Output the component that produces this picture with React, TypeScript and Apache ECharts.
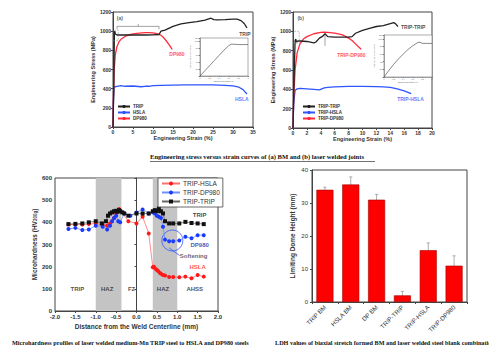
import React, { useEffect, useRef } from "react";
import * as echarts from "echarts";

// ---------- (a) BM stress-strain ----------
const tripAStrain = [0, 0.2, 0.3, 0.35, 0.45, 0.6, 0.8, 1.0, 2, 4, 6, 8, 10, 11.5, 12, 13, 15, 17, 19, 21, 23, 24.5, 25.2, 26, 28, 30, 31, 32, 32.8, 33.5];
const tripAStress = [0, 400, 800, 980, 1000, 970, 965, 960, 960, 960, 962, 960, 962, 965, 1000, 1010, 1050, 1075, 1090, 1100, 1115, 1135, 1120, 1118, 1120, 1125, 1125, 1110, 1080, 1035];
const hslaAStrain = [0, 0.1, 0.25, 0.5, 1, 2, 3, 5, 7, 8, 9, 10, 12, 15, 18, 20, 22, 25, 28, 30, 31.5, 32.5, 33.5];
const hslaAStress = [0, 250, 410, 420, 425, 432, 425, 428, 420, 425, 425, 432, 435, 438, 440, 440, 440, 440, 435, 430, 415, 390, 345];
const dpAStrain = [0, 0.1, 0.3, 0.6, 1, 1.5, 2, 3, 4, 5, 6, 8, 9, 10, 11, 11.8, 12.5, 13.3, 14, 14.8];
const dpAStress = [0, 300, 600, 760, 840, 890, 915, 945, 962, 972, 978, 985, 985, 982, 975, 962, 940, 900, 860, 810];

// ---------- (b) welded joints ----------
const ttBStrain = [0, 0.15, 0.3, 0.4, 0.5, 0.7, 1, 2, 3, 3.3, 3.8, 4.3, 4.6, 5, 6, 7, 8, 8.5, 9, 10, 11, 12, 13, 14, 14.5, 14.8, 15.1];
const ttBStress = [0, 500, 900, 920, 890, 900, 900, 895, 880, 890, 930, 950, 975, 945, 940, 940, 940, 945, 980, 1010, 1030, 1050, 1060, 1080, 1090, 1075, 1050];
const thBStrain = [0, 0.1, 0.3, 0.6, 1, 2, 3, 3.8, 4.5, 5, 6, 8, 10, 12, 13, 14, 15, 16, 17];
const thBStress = [0, 250, 390, 405, 410, 405, 400, 395, 415, 420, 425, 430, 430, 428, 425, 420, 405, 385, 355];
const tdBStrain = [0, 0.1, 0.3, 0.6, 1, 1.5, 2, 3, 4, 4.5, 5, 6, 7, 7.5, 8, 8.5, 9, 9.5, 9.8];
const tdBStress = [0, 300, 600, 780, 870, 920, 945, 975, 990, 992, 990, 982, 965, 950, 930, 905, 870, 835, 815];

// insets (yield region zoom)
const insetAStrain = [0, 0.1, 0.2, 0.3, 0.4, 0.5, 0.6, 0.65, 0.7, 0.8, 0.9, 1.0];
const insetAStress = [0, 150, 300, 450, 600, 750, 880, 920, 920, 910, 910, 910];
const insetBStrain = [0, 0.1, 0.2, 0.3, 0.4, 0.5, 0.6, 0.7, 0.75, 0.8, 0.9, 1.0];
const insetBStress = [0, 170, 330, 470, 600, 720, 820, 900, 910, 880, 880, 880];

// ---------- microhardness ----------
const hslaDist = [-1.67, -1.5, -1.33, -1.17, -1.0, -0.83, -0.72, -0.65, -0.6, -0.55, -0.5, -0.47, -0.43, -0.4, -0.2, 0.0, 0.15, 0.3, 0.4, 0.43, 0.47, 0.5, 0.53, 0.57, 0.6, 0.65, 0.7, 0.8, 0.9, 1.05, 1.2, 1.35, 1.5, 1.65];
const hslaHV = [390, 390, 390, 392, 395, 388, 385, 395, 405, 420, 440, 450, 460, 455, 405, 395, 425, 350, 197, 200, 190, 185, 180, 172, 168, 162, 160, 153, 153, 152, 155, 148, 162, 155];
const dpDist = [-1.67, -1.5, -1.33, -1.17, -1.0, -0.83, -0.72, -0.65, -0.6, -0.55, -0.5, -0.45, -0.4, -0.3, -0.15, 0.0, 0.15, 0.3, 0.4, 0.45, 0.5, 0.55, 0.6, 0.65, 0.7, 0.8, 0.9, 1.05, 1.2, 1.35, 1.5, 1.65];
const dpHV = [370, 375, 365, 368, 385, 380, 368, 385, 405, 420, 430, 405, 400, 440, 430, 445, 458, 440, 445, 440, 430, 425, 420, 380, 322, 315, 315, 318, 335, 328, 342, 342];
const ttDist = [-1.67, -1.5, -1.33, -1.17, -1.0, -0.85, -0.75, -0.7, -0.65, -0.6, -0.55, -0.5, -0.47, -0.43, -0.4, -0.35, -0.3, -0.2, 0.0, 0.15, 0.3, 0.4, 0.45, 0.5, 0.55, 0.6, 0.65, 0.7, 0.8, 0.9, 1.05, 1.2, 1.35, 1.5, 1.65];
const ttHV = [392, 393, 395, 400, 405, 395, 405, 430, 440, 445, 450, 452, 448, 455, 450, 445, 440, 430, 440, 440, 440, 450, 455, 450, 462, 450, 440, 405, 395, 395, 395, 402, 397, 395, 392];
const hazBands = [[-1.0, -0.37], [0.4, 1.0]];
const zoneNames = ["TRIP", "HAZ", "FZ", "HAZ", "AHSS"];
const zoneX = [-1.45, -0.72, -0.12, 0.65, 1.43];
const zoneY = 100;

// ---------- LDH ----------
const ldhCategories = ["TRIP BM", "HSLA BM", "DP BM", "TRIP-TRIP", "TRIP-HSLA", "TRIP-DP980"];
const ldhValues = [34, 35.6, 31, 2, 15.7, 11];
const ldhErrors = [0.8, 2.3, 1.6, 1.2, 2.2, 3];

const SANS = "Liberation Sans";
const SERIF = "Liberation Serif";
const BLACK = "#222";
const RED = "#ff2a3a";
const BLUE = "#2f55ff";

const zip = (xs: number[], ys: number[]) => xs.map((x, i) => [x, ys[i]]);
const plain = (v: number) => String(v);

function valueAxis(gridIndex: number, min: number, max: number, interval: number, fs: number, extra: any = {}) {
  return {
    type: "value",
    gridIndex,
    min,
    max,
    interval,
    splitLine: { show: false },
    axisLine: { show: true, lineStyle: { color: "#444", width: 1 } },
    axisTick: { show: true, length: 2, lineStyle: { color: "#444" } },
    axisLabel: { fontSize: fs, color: "#333", fontFamily: SANS, fontWeight: "bold", margin: 2, formatter: plain },
    nameTextStyle: { fontFamily: SANS, fontWeight: "bold", color: "#333" },
    ...extra,
  };
}

function insetAxis(gridIndex: number, max: number, interval: number, name: string, gap: number) {
  return valueAxis(gridIndex, 0, max, interval, 2, {
    axisLabel: { fontSize: 2, color: "#555", margin: 1, formatter: plain },
    axisTick: { length: 1, lineStyle: { color: "#777" } },
    axisLine: { lineStyle: { color: "#777", width: 0.6 } },
    name,
    nameLocation: "middle",
    nameGap: gap,
    nameTextStyle: { fontSize: 2, color: "#555" },
  });
}

function labelSeries(xi: number, yi: number, items: { name: string; value: number[]; color: string }[], fs: number) {
  return {
    type: "scatter",
    xAxisIndex: xi,
    yAxisIndex: yi,
    symbolSize: 0,
    silent: true,
    data: items.map((d) => ({
      name: d.name,
      value: d.value,
      label: { show: true, position: "inside", formatter: "{b}", color: d.color, fontSize: fs, fontWeight: "bold", fontFamily: SANS },
    })),
  };
}

function curve(name: string, xi: number, xs: number[], ys: number[], color: string, width = 1.3) {
  return {
    name,
    type: "line",
    xAxisIndex: xi,
    yAxisIndex: xi,
    symbol: "none",
    data: zip(xs, ys),
    lineStyle: { color, width },
    itemStyle: { color },
  };
}

export default function App() {
  const ref = useRef<HTMLDivElement>(null);
  useEffect(() => {
    if (!ref.current) return;
    const chart = echarts.init(ref.current, undefined, { renderer: "svg" });
    const gridBox = { show: true, borderColor: "#444", borderWidth: 1, backgroundColor: "transparent" };
    const insetBox = { show: true, borderColor: "#777", borderWidth: 0.6, backgroundColor: "#fff" };
    const titleStyle = (fs: number) => ({ fontFamily: SANS, fontWeight: "bold", fontSize: fs, color: "#333" });
    const option: any = {
      animation: false,
      backgroundColor: "#fff",
      grid: [
        { left: 113, top: 12, width: 140, height: 115, ...gridBox },
        { left: 293, top: 12, width: 139, height: 116, ...gridBox },
        { left: 55, top: 178, width: 163, height: 133, ...gridBox },
        { left: 312, top: 170, width: 155, height: 132, ...gridBox },
        { left: 200, top: 38, width: 48, height: 38, ...insetBox },
        { left: 384, top: 35, width: 48, height: 42, ...insetBox },
      ],
      xAxis: [
        valueAxis(0, 0, 35, 5, 5, { name: "Engineering Strain (%)", nameLocation: "middle", nameGap: 8, nameTextStyle: titleStyle(5.5) }),
        valueAxis(1, 0, 20, 2, 5, { name: "Engineering Strain (%)", nameLocation: "middle", nameGap: 8, nameTextStyle: titleStyle(5.5) }),
        valueAxis(2, -2, 2, 0.5, 6, {
          name: "Distance from the Weld Centerline (mm)",
          nameLocation: "middle",
          nameGap: 12,
          nameTextStyle: titleStyle(6.5),
          axisLabel: { fontSize: 6, color: "#333", fontFamily: SANS, fontWeight: "bold", margin: 3, formatter: (v: number) => v.toFixed(1) },
        }),
        {
          type: "category",
          gridIndex: 3,
          data: ldhCategories,
          axisLine: { show: true, lineStyle: { color: "#444" } },
          axisTick: { show: true, length: 2, lineStyle: { color: "#444" } },
          axisLabel: { fontSize: 6.2, color: "#333", fontFamily: SANS, rotate: 45, margin: 4, interval: 0 },
        },
        insetAxis(4, 1, 0.2, "Engineering Strain (%)", 4),
        insetAxis(5, 1, 0.2, "Engineering Strain (%)", 4),
      ],
      yAxis: [
        valueAxis(0, 0, 1200, 200, 5, { name: "Engineering Stress (MPa)", nameLocation: "middle", nameGap: 17, nameTextStyle: titleStyle(5.5) }),
        valueAxis(1, 0, 1200, 200, 5, { name: "Engineering Stress (MPa)", nameLocation: "middle", nameGap: 17, nameTextStyle: titleStyle(5.5) }),
        valueAxis(2, 0, 600, 100, 6, {
          name: "Microhardness (HV{s|200g})",
          nameLocation: "middle",
          nameGap: 17,
          nameTextStyle: { ...titleStyle(6.5), rich: { s: { fontSize: 4.5, fontFamily: SANS, fontWeight: "bold", color: "#333", verticalAlign: "bottom" } } },
          axisLabel: { fontSize: 6, color: "#333", fontFamily: SANS, fontWeight: "bold", margin: 3, formatter: plain },
        }),
        valueAxis(3, 0, 40, 10, 6, {
          name: "Limiting Dome Height (mm)",
          nameLocation: "middle",
          nameGap: 16,
          nameTextStyle: titleStyle(6.5),
          axisLabel: { fontSize: 6, color: "#333", fontFamily: SANS, margin: 4, formatter: plain },
        }),
        insetAxis(4, 1100, 200, "Engineering Stress (MPa)", 6),
        insetAxis(5, 1100, 200, "Engineering Stress (MPa)", 6),
      ],
      legend: [
        {
          data: ["TRIP", "HSLA", "DP980"],
          orient: "vertical",
          left: 117,
          top: 104,
          itemWidth: 12,
          itemHeight: 4,
          itemGap: 1,
          padding: 0,
          textStyle: { fontSize: 4.5, fontFamily: SANS, fontWeight: "bold", color: "#333", padding: [0, 0, 0, -2] },
        },
        {
          data: ["TRIP-TRIP ", "TRIP-HSLA ", "TRIP-DP980 "],
          orient: "vertical",
          left: 302,
          top: 104,
          itemWidth: 12,
          itemHeight: 4,
          itemGap: 1,
          padding: 0,
          textStyle: { fontSize: 4.5, fontFamily: SANS, fontWeight: "bold", color: "#333", padding: [0, 0, 0, -2] },
        },
        {
          data: ["TRIP-HSLA", "TRIP-DP980", "TRIP-TRIP"],
          orient: "vertical",
          left: 158,
          top: 178,
          itemWidth: 18,
          itemHeight: 5,
          itemGap: 2,
          padding: [2, 3, 2, 3],
          borderColor: "#444",
          borderWidth: 0.8,
          backgroundColor: "#fff",
          textStyle: { fontSize: 6.5, fontFamily: SANS, color: "#333", padding: [0, 0, 0, -2] },
        },
      ],
      series: [
        // (a)
        curve("HSLA", 0, hslaAStrain, hslaAStress, BLUE),
        curve("DP980", 0, dpAStrain, dpAStress, RED),
        curve("TRIP", 0, tripAStrain, tripAStress, BLACK),
        {
          type: "line", xAxisIndex: 0, yAxisIndex: 0, symbol: "none", silent: true,
          lineStyle: { color: "#666", width: 0.6 },
          data: [[1, 1020], [1, 1050], [11.5, 1050], [11.5, 1020]],
        },
        {
          type: "line", xAxisIndex: 0, yAxisIndex: 0, symbol: "none", silent: true,
          lineStyle: { color: "#666", width: 0.6 },
          data: [[6.3, 1050], [6.3, 1075]],
        },
        {
          type: "line", xAxisIndex: 0, yAxisIndex: 0, symbol: "none", silent: true,
          lineStyle: { color: "#888", width: 0.5, type: "dashed" },
          data: [[0, 900], [1.3, 900], [1.3, 1010], [0, 1010]],
        },
        labelSeries(0, 0, [
          { name: "(a)", value: [1.7, 1140], color: "#333" },
          { name: "TRIP", value: [33, 970], color: BLACK },
          { name: "DP980", value: [16, 765], color: RED },
          { name: "HSLA", value: [32.2, 296], color: BLUE },
        ], 5),
        // (b)
        curve("TRIP-HSLA ", 1, thBStrain, thBStress, BLUE),
        curve("TRIP-DP980 ", 1, tdBStrain, tdBStress, RED),
        curve("TRIP-TRIP ", 1, ttBStrain, ttBStress, BLACK),
        {
          type: "line", xAxisIndex: 1, yAxisIndex: 1, symbol: "none", silent: true,
          lineStyle: { color: "#666", width: 0.6 },
          data: [[4.6, 850], [4.6, 960]],
        },
        {
          type: "line", xAxisIndex: 1, yAxisIndex: 1, symbol: "none", silent: true,
          lineStyle: { color: "#888", width: 0.5, type: "dashed" },
          data: [[0, 880], [0.9, 880], [0.9, 1000], [0, 1000]],
        },
        labelSeries(1, 1, [
          { name: "(b)", value: [1.1, 1140], color: "#333" },
          { name: "TRIP-TRIP", value: [17.3, 1050], color: BLACK },
          { name: "TRIP-DP980", value: [8.4, 756], color: RED },
          { name: "TRIP-HSLA", value: [16.9, 305], color: BLUE },
        ], 5),
        // insets
        { type: "line", xAxisIndex: 4, yAxisIndex: 4, symbol: "none", silent: true, data: zip(insetAStrain, insetAStress), lineStyle: { color: "#555", width: 0.7 } },
        { type: "line", xAxisIndex: 5, yAxisIndex: 5, symbol: "none", silent: true, data: zip(insetBStrain, insetBStress), lineStyle: { color: "#555", width: 0.7 } },
        // microhardness
        {
          name: "TRIP-HSLA",
          type: "line",
          xAxisIndex: 2,
          yAxisIndex: 2,
          data: zip(hslaDist, hslaHV),
          symbol: "circle",
          symbolSize: 4,
          lineStyle: { color: "#ff7070", width: 0.8 },
          itemStyle: { color: "#ff1a1a" },
          markArea: {
            silent: true,
            itemStyle: { color: "#c4c4c4" },
            data: hazBands.map((b) => [{ xAxis: b[0] }, { xAxis: b[1] }]),
          },
        },
        {
          name: "TRIP-DP980",
          type: "line",
          xAxisIndex: 2,
          yAxisIndex: 2,
          data: zip(dpDist, dpHV),
          symbol: "circle",
          symbolSize: 4,
          lineStyle: { color: "#7090ff", width: 0.8 },
          itemStyle: { color: "#1a3aff" },
        },
        {
          name: "TRIP-TRIP",
          type: "line",
          xAxisIndex: 2,
          yAxisIndex: 2,
          data: zip(ttDist, ttHV),
          symbol: "rect",
          symbolSize: 4,
          lineStyle: { color: "#666", width: 0.8 },
          itemStyle: { color: "#111" },
        },
        {
          type: "scatter", xAxisIndex: 2, yAxisIndex: 2, silent: true,
          symbol: "circle", symbolSize: 21,
          itemStyle: { color: "transparent", borderColor: "#2f55ff", borderWidth: 1 },
          data: [[0.88, 318]],
        },
        {
          type: "line", xAxisIndex: 2, yAxisIndex: 2, symbol: "none", silent: true,
          lineStyle: { color: "#2f55ff", width: 0.8 },
          data: [[0.8, 285], [1.06, 250]],
        },
        labelSeries(2, 2, zoneNames.map((n, i) => ({ name: n, value: [zoneX[i], zoneY], color: "#222" })), 6),
        labelSeries(2, 2, [
          { name: "TRIP", value: [1.55, 433], color: "#111" },
          { name: "DP980", value: [1.55, 297], color: "#1a2aa0" },
          { name: "Softening", value: [1.4, 248], color: "#3a3a5a" },
          { name: "HSLA", value: [1.5, 200], color: "#ff1a1a" },
        ], 6),
        // LDH bars
        {
          type: "bar",
          xAxisIndex: 3,
          yAxisIndex: 3,
          data: ldhValues,
          barWidth: 17,
          itemStyle: { color: "#ff0000", borderColor: "#a00000", borderWidth: 0.6 },
        },
        {
          type: "custom",
          xAxisIndex: 3,
          yAxisIndex: 3,
          silent: true,
          data: ldhValues.map((v, i) => [i, v - ldhErrors[i], v + ldhErrors[i]]),
          encode: { x: 0, y: [1, 2] },
          renderItem: (params: any, api: any) => {
            const i = api.value(0);
            const lo = api.coord([i, api.value(1)]);
            const hi = api.coord([i, api.value(2)]);
            const st = { stroke: "#999", lineWidth: 0.8 };
            return {
              type: "group",
              children: [
                { type: "line", shape: { x1: lo[0], y1: lo[1], x2: hi[0], y2: hi[1] }, style: st },
                { type: "line", shape: { x1: hi[0] - 1.5, y1: hi[1], x2: hi[0] + 1.5, y2: hi[1] }, style: st },
                { type: "line", shape: { x1: lo[0] - 1.5, y1: lo[1], x2: lo[0] + 1.5, y2: lo[1] }, style: st },
              ],
            };
          },
        },
      ],
      graphic: [
        {
          type: "text",
          left: 150,
          top: 153,
          style: { text: "Engineering stress versus strain curves of (a) BM and (b) laser welded joints", fontSize: 6.6, fontWeight: "bold", fontFamily: SERIF, fill: "#111" },
        },
        {
          type: "line",
          shape: { x1: 150, y1: 161.5, x2: 375, y2: 161.5 },
          style: { stroke: "#111", lineWidth: 0.6 },
        },
        {
          type: "text",
          left: 12,
          top: 339,
          style: { text: "Microhardness profiles of laser welded medium-Mn TRIP steel to HSLA and DP980 steels", fontSize: 6.2, fontWeight: "bold", fontFamily: SERIF, fill: "#111" },
        },
        {
          type: "text",
          left: 275,
          top: 339,
          style: { text: "LDH values of biaxial stretch formed BM and laser welded steel blank combinations", fontSize: 6.2, fontWeight: "bold", fontFamily: SERIF, fill: "#111" },
        },
      ],
    };
    chart.setOption(option);
    return () => chart.dispose();
  }, []);
  return <div ref={ref} style={{ position: "fixed", left: 0, top: 0, width: 489, height: 348 }} />;
}
